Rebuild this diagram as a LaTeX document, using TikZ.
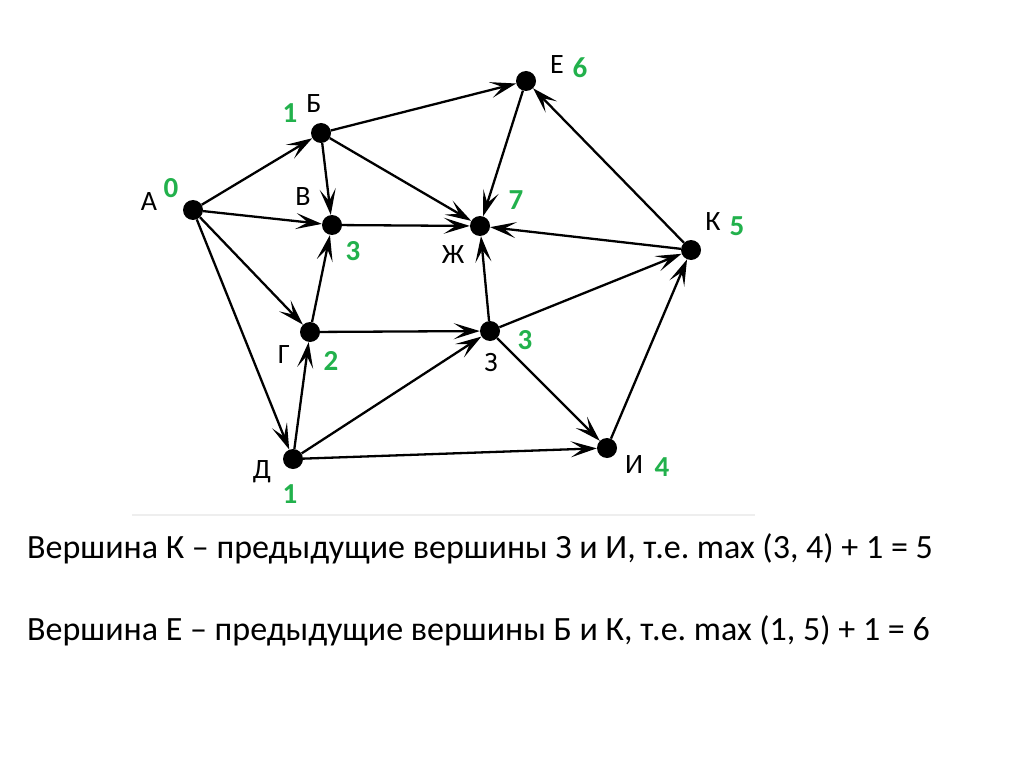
\documentclass[tikz,border=0pt]{standalone}
\usepackage{fontspec}
\setmainfont{Carlito}
\usetikzlibrary{arrows.meta}
\frenchspacing
\definecolor{numgreen}{RGB}{34,177,76}
\definecolor{faint}{RGB}{238,238,238}
\tikzset{
  vtx/.style={circle,fill=black,inner sep=0pt,minimum size=20pt},
  edge/.style={line width=2.3pt,-{Stealth[length=26pt,width=16pt,inset=12pt]}},
  vlab/.style={font=\fontsize{28}{28}\selectfont,text=black,inner sep=0pt},
  num/.style={font=\fontsize{29}{29}\selectfont\bfseries,text=numgreen,inner sep=0pt},
  body/.style={font=\fontsize{34}{34}\selectfont,anchor=base west,inner sep=0pt}
}
\begin{document}
\begin{tikzpicture}[x=1pt,y=-1pt]
\useasboundingbox (0,0) rectangle (1024,767);
% vertices
\node[vtx] (A) at (193,210) {};
\node[vtx] (B) at (321,133) {};
\node[vtx] (V) at (332,225) {};
\node[vtx] (G) at (310,332) {};
\node[vtx] (D) at (293,459) {};
\node[vtx] (E) at (526,81) {};
\node[vtx] (Zh) at (480,226) {};
\node[vtx] (Z) at (490,331) {};
\node[vtx] (I) at (607,448) {};
\node[vtx] (K) at (691,250) {};
% edges
\draw[edge] (A) -- (B);
\draw[edge] (A) -- (V);
\draw[edge] (A) -- (G);
\draw[edge] (A) -- (D);
\draw[edge] (B) -- (V);
\draw[edge] (B) -- (E);
\draw[edge] (B) -- (Zh);
\draw[edge] (V) -- (Zh);
\draw[edge] (G) -- (V);
\draw[edge] (G) -- (Z);
\draw[edge] (D) -- (G);
\draw[edge] (D) -- (Z);
\draw[edge] (D) -- (I);
\draw[edge] (Z) -- (Zh);
\draw[edge] (Z) -- (K);
\draw[edge] (Z) -- (I);
\draw[edge] (I) -- (K);
\draw[edge] (K) -- (Zh);
\draw[edge] (K) -- (E);
\draw[edge] (E) -- (Zh);
% labels
\node[vlab] (lA) at (149,202) {А};
\node[num] (nA) at (171,188) {0};
\node[vlab] (lB) at (314,104) {Б};
\node[num] (nB) at (290,113) {1};
\node[vlab] (lV) at (303,197) {В};
\node[num] (nV) at (353,251) {3};
\node[vlab] (lE) at (557,65) {Е};
\node[num] (nE) at (580,68) {6};
\node[vlab] (lZh) at (453,255) {Ж};
\node[num] (nZh) at (516,200) {7};
\node[vlab] (lK) at (713,222) {К};
\node[num] (nK) at (737,226) {5};
\node[vlab] (lG) at (284,355) {Г};
\node[num] (nG) at (331,361) {2};
\node[vlab] (lZ) at (491,363) {З};
\node[num] (nZ) at (525,340) {3};
\node[vlab] (lD) at (262,472) {Д};
\node[num] (nD) at (290,494) {1};
\node[vlab] (lI) at (634,465) {И};
\node[num] (nI) at (662,467) {4};
% faint rule
\draw[faint,line width=2pt] (132,515) -- (755,515);
% text
\node[body] (t1) at (27,558) {Вершина К – предыдущие вершины З и И, т.е. max (3, 4) + 1 = 5};
\node[body] (t2) at (27,640) {Вершина Е – предыдущие вершины Б и К, т.е. max (1, 5) + 1 = 6};
\end{tikzpicture}
\end{document}
